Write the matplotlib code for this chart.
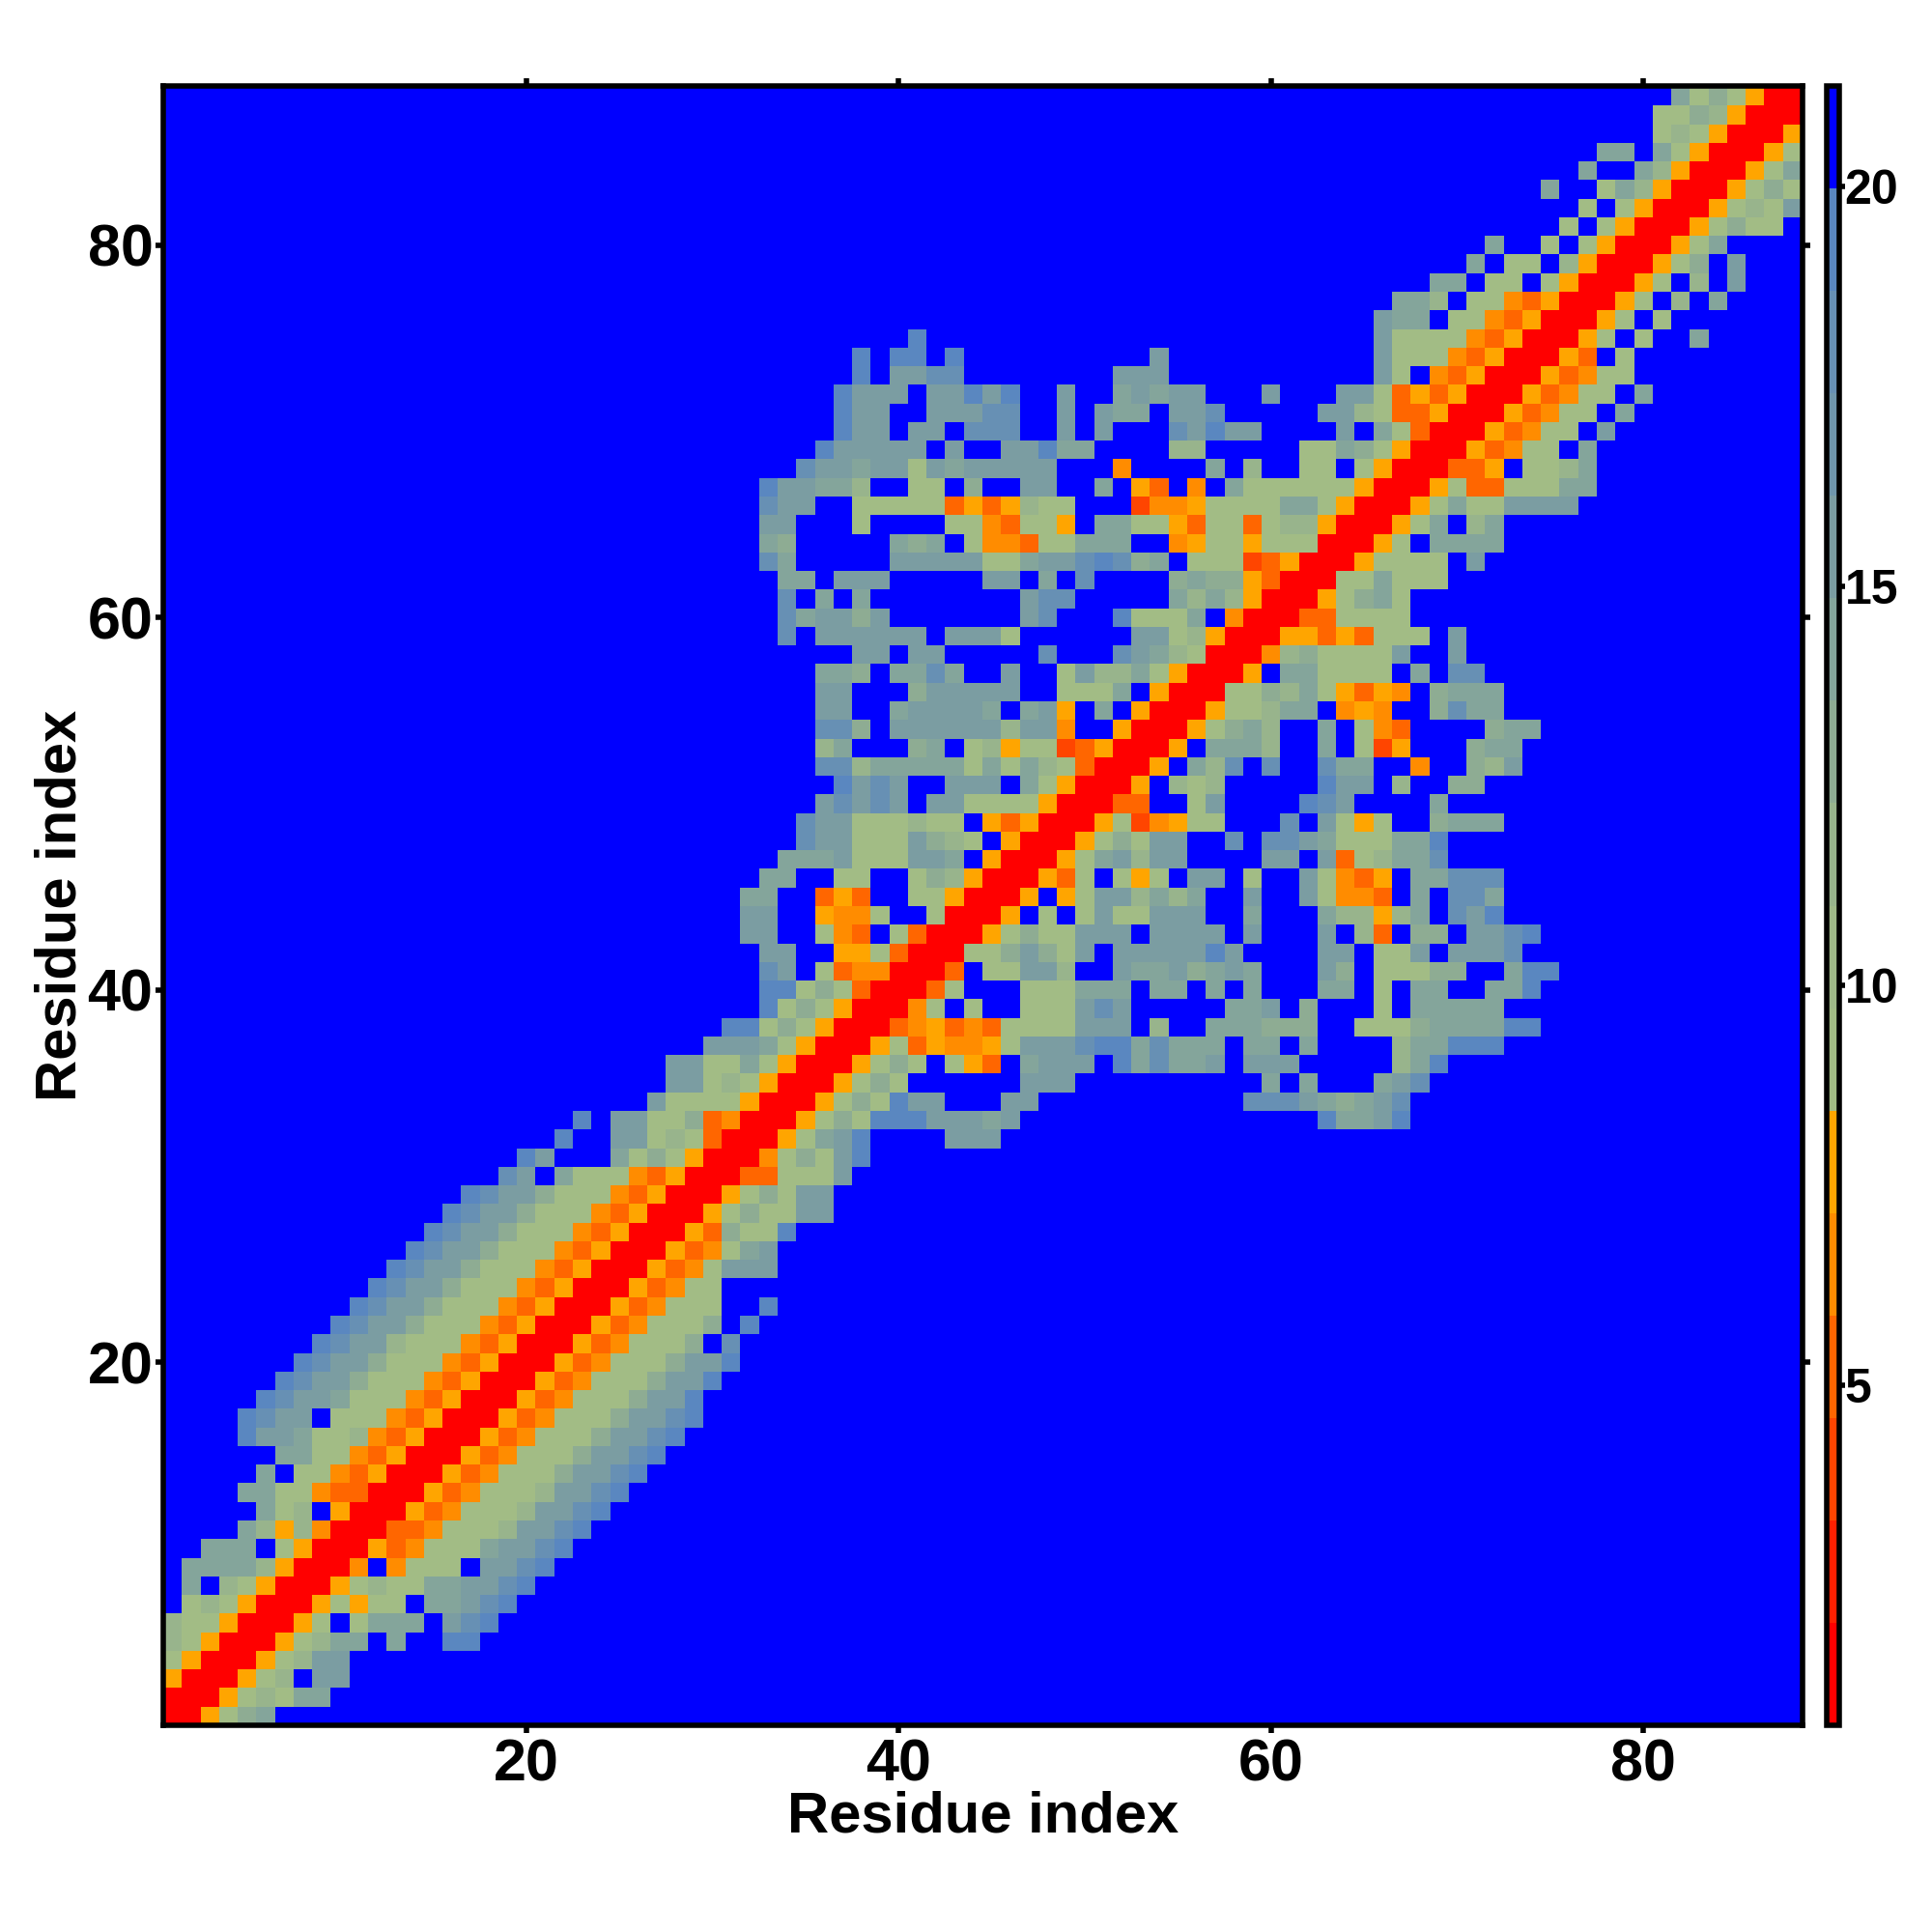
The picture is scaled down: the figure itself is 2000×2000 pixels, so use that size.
#!/usr/bin/env python3
"""Residue contact map: distance per residue pair, 88 x 88, 16 colour steps."""
import numpy as np
import matplotlib
matplotlib.use("Agg")
import matplotlib.pyplot as plt
from matplotlib.colors import ListedColormap, BoundaryNorm

plt.rcParams.update({
    "font.family": ["Liberation Sans", "DejaVu Sans"],
    "font.weight": "bold",
    "axes.linewidth": 2.0,
})

N_RES = 88
VMIN, VMAX = 0.74, 21.26
PALETTE = ["#ff0000", "#ff2000", "#ff4500", "#ff6600", "#ff8c00", "#ffa500",
           "#a2bc85", "#9fb988", "#98b48c", "#8eac93", "#84a59b", "#7b9da2",
           "#6f96ac", "#6790b4", "#5a87c0", "#0000ff"]

# cell codes -> colour step of the scale
STEP = {"0": 0, "2": 2, "3": 3, "4": 4, "5": 5, "s": 6, "t": 8, "9": 9,
        "a": 10, "b": 11, "c": 13, "d": 14, ".": 15}

# one entry per y residue 1..88: first x residue, then its cells; the rest is no contact
row_first = [1, 1, 1, 1, 1, 1, 2, 2, 2, 3, 5, 6, 5, 6, 7, 5, 5, 6, 7, 8, 9, 10,
             11, 12, 13, 14, 15, 16, 17, 19, 20, 22, 23, 27, 28, 28, 30, 31, 33, 33, 33, 33,
             32, 32, 32, 33, 34, 35, 35, 36, 37, 36, 36, 36, 36, 36, 36, 38, 34, 34, 34, 34,
             33, 33, 33, 33, 33, 35, 36, 37, 37, 37, 38, 38, 41, 66, 67, 69, 71, 72, 76, 77,
             75, 77, 78, 81, 81, 82]
row_cells = [
    "005s9a",
    "0005stsaa",
    "50005st.bb",
    "s50005stbb",
    "ts50005staa.a..dd",
    "tss50005s.saaa.bcd",
    "sts50005s5ss.aabcd",
    "a.ts50005stssaabbcd",
    "aaaat50004.4sss.bbcd",
    "aaa.s5000534sssabbcd",
    "at5t4000334ssstbbcd",
    "ast.5000534ssstbbcd",
    "aass433000534ssstbbcd",
    "a.ss435000534sss9bbcd",
    "aass435000534sss9bbcd",
    "dbbasst435000534sss9bbcd",
    "dcbb.sss435000534sss9bbcd",
    "dcbbasss435000534sss9bbd",
    "dcbb9sss435000534sss9bbd",
    "dcbb9sss435000534sss9bbd",
    "dcbbtsss435000534sss9.c",
    "dcbb9sss435000534sss9.d",
    "dcbb9sss435000534sss..d",
    "dcbb9sss435000534ss",
    "dcbb9sss435000534sbbb",
    "dcbb9sss435000534sab",
    "dcbb9sss435000539ssd",
    "dcbb9sss4350005s9ssbb",
    "dcbb9sss4350005s9sbb",
    "cb.asss43500033sssb",
    "db...as9s50004s9sbd",
    "d..bbsts30005sabd....bbb",
    "d.bbss9340005s9sdddbbbab................daabd",
    "bssss50005s9sdbb...bb...........cccba9abc",
    "bbsts50005s9s......bbb..........a.a...abc",
    "bbssas50005s9s.s53.abbb.dacaab.bbb.....tad",
    "bbbas50005s35445sbbbcddacaaa.aa.a....taaddd",
    "dds9s5000345343ssssbbb.t..aaa999..sss9aaaadd",
    "ds9s50004s.s..sssbcb.....aab.9...s.aaaaa",
    "dds9s30003s...sssaaa.aa.a.a...aa.s.aa..aad",
    "cb.s3440003.ssbbt..baab9aba...b9.sss99..add",
    "bb..55s3000ss9b9sb.bbbbbdb....bb.ssb.bbbc",
    "bb..s43.s30005s9ssbbb.bbbb.b...b.t3.99.bbcd",
    "bb..544s..s0005.s.sbssbbb..a...att5ta.cbd",
    "aa..353..ss50005.5sbbtata..b..bs443.a.cca",
    "aa..ss..s9t500053s.s5s.bb.s..bs435.aaccc",
    "aaabsssbba.50005sabtbb....bb.b3staac",
    "cbbsssb9ts.50005s9sbb..c.ccbasssaad",
    "cbbssstss.5350005s245ss...c.bs5s..9aaa",
    "bcbcb.bbssss500033..sb....dcb....a",
    "dbcb..bbb.as50005.tst.....dbb.t..99",
    "cctaaaaasasats30005.atc.c..caa..4..9tb",
    "ta...9a.st5ss2350005.aaat..a.s25...9aa",
    "cc9.bbbbbbtbb4..50005s9at..a.s43....9aa",
    "bb..abbbba.ab5.a.50005sstaa.454..9caa",
    "bb...9bbbbb..sssa.5000ss9tas5354.9aaa",
    "aa9.aaca..b..sbttas50005.aassss.a.cc",
    "bb.bb.....c...cbats0004t9ssssb..b",
    "c.bbbbbb.bbbs......bbst500055353sss.b",
    "cabb9b.......bc...dsssa.400033ssss",
    "c.a.a........bcc.....atat50005s9as",
    "aa.bbb.....bb.a.c....9a9953000ssasss",
    "ca.....bbbbbssabbcdc9a.sss2350005ssss.b",
    "a9.....a9a.s443ssaaa..45ss5sss0005s.aaaa",
    "bb...s....ss43ss5.aass53ss3stt50005sa.ta",
    "cbb..sssss3535tss...2445ssssaas50005sassbbbb",
    "dbbaat..ss.9..bb..a.53.4.assssss50005s33sssaa",
    "cbbabbsbabbbbb...4....a.t..ss.s5000335.ssta",
    "dbbbbb.b..bbdaa....tt.....ssa9s5000534ss.a",
    "dbb.bb.ccc..b.b...cbdbb....b.as3000534ss.b",
    "dbb..bbbcc..b.baa.bbc.....bbts335000534ss.a",
    "dbbb.bbdbd..b..ababb...b...bbs3535000534ss.a",
    "d.bbcc........bbb...........bs.435000534ss",
    "d.dd.d..........b...........bsss43500053.s",
    "d........................bssss4350005s.s..a",
    "baa.ss4350005s.s",
    "aat.ss4350005s.t.a",
    "aa.ss.s50005s.t.b",
    "a.ss.t50005s9.b",
    "a..s.s50005sa",
    "s.s50005s9ss",
    "s.s50005stsb",
    "a..sat50005s9s",
    "a..at50005sa",
    "aa.as50005s",
    "sts50005",
    "ss9t5000",
    "as9s500",
]
x_ticks = [20, 40, 60, 80]
y_ticks = [20, 40, 60, 80]
bar_ticks = [5, 10, 15, 20]

edges = np.linspace(VMIN, VMAX, len(PALETTE) + 1)
centers = (edges[:-1] + edges[1:]) / 2
dist = np.full((N_RES, N_RES), centers[-1])
for j, (first, cells) in enumerate(zip(row_first, row_cells)):
    for k, c in enumerate(cells):
        dist[j, first - 1 + k] = centers[STEP[c]]

cmap = ListedColormap(PALETTE)
norm = BoundaryNorm(edges, cmap.N)

fig = plt.figure(figsize=(10, 10), dpi=200)
ax = fig.add_axes([169 / 2000, 1 - 1786 / 2000, 1697 / 2000, 1697 / 2000])
cax = fig.add_axes([1891 / 2000, 1 - 1786 / 2000, 13 / 2000, 1697 / 2000])

grid = np.arange(N_RES + 1) + 0.5
mesh = ax.pcolormesh(grid, grid, dist, cmap=cmap, norm=norm, linewidth=0, antialiased=False)
ax.set_xlim(0.5, 88.55)
ax.set_ylim(0.5, 88.55)
ax.set_xticks(x_ticks)
ax.set_yticks(y_ticks)
ax.tick_params(axis="both", which="major", direction="out", length=3, width=2, labelsize=22,
               top=True, right=True)
ax.tick_params(axis="x", pad=2)
ax.tick_params(axis="y", pad=0.8)
ax.set_xlabel("Residue index", fontsize=21.5, fontweight="bold")
ax.set_ylabel("Residue index", fontsize=21.5, fontweight="bold")
ax.xaxis.set_label_coords(0.5, -0.040)
ax.yaxis.set_label_coords(-0.0465, 0.5)

cb = fig.colorbar(mesh, cax=cax, ticks=bar_ticks, drawedges=False)
cb.outline.set_linewidth(2.0)
cb.ax.tick_params(direction="out", length=2, width=2, labelsize=18, pad=0)
cb.ax.minorticks_off()

fig.savefig("out.png", dpi=200)
